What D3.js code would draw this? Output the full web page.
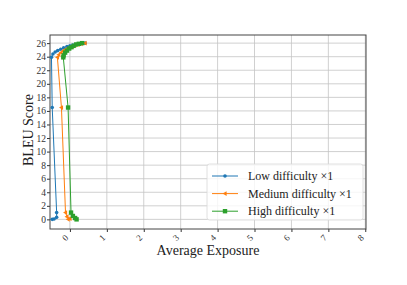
<!DOCTYPE html>
<html><head><meta charset="utf-8">
<script src="https://cdn.jsdelivr.net/npm/d3@7"></script>
<style>body{margin:0;background:#fff}svg{display:block}text{font-family:"Liberation Serif","DejaVu Serif",serif}</style>
</head><body><svg id="c" width="407" height="285"></svg>
<script>
const xTicks = [0,1,2,3,4,5,6,7,8];
const yTicks = [0,2,4,6,8,10,12,14,16,18,20,22,24,26];
const seriesNames = ["Low difficulty \u00d71","Medium difficulty \u00d71","High difficulty \u00d71"];
const seriesColors = ["#1f77b4","#ff7f0e","#2ca02c"];
const seriesMarkers = ["circle","triangle","square"];
const lowX = [-0.48,-0.43,-0.36,-0.36,-0.48,-0.50,-0.46,-0.40,-0.33,-0.25,-0.17,-0.08,0.0,0.08,0.16,0.24,0.32,0.41];
const lowY = [0,0.05,0.3,1.0,16.5,23.9,24.4,24.7,24.9,25.1,25.3,25.5,25.6,25.7,25.8,25.9,25.95,26.0];
const medX = [-0.05,0.0,-0.08,-0.12,-0.23,-0.34,-0.30,-0.24,-0.17,-0.10,-0.02,0.06,0.14,0.22,0.30,0.41];
const medY = [0,0.1,0.4,1.0,16.5,23.9,24.3,24.6,24.9,25.1,25.3,25.5,25.7,25.8,25.9,26.0];
const highX = [0.18,0.14,0.08,0.03,-0.05,-0.18,-0.17,-0.13,-0.08,-0.02,0.04,0.10,0.17,0.24,0.33];
const highY = [0,0.2,0.5,1.0,16.5,23.9,24.2,24.6,24.9,25.2,25.4,25.6,25.8,25.9,26.0];

const svg = d3.select("#c");
const L=50, R=366, T=35, B=229;
const x = d3.scaleLinear().domain([-0.54,8.02]).range([L,R]);
const y = d3.scaleLinear().domain([-1.42,27.2]).range([B,T]);
const g = svg.append("g");
g.selectAll(".gx").data(xTicks).enter().append("line")
 .attr("x1",d=>x(d)).attr("x2",d=>x(d)).attr("y1",T).attr("y2",B)
 .attr("stroke","#c4c4c4").attr("stroke-width",0.8);
g.selectAll(".gy").data(yTicks).enter().append("line")
 .attr("y1",d=>y(d)).attr("y2",d=>y(d)).attr("x1",L).attr("x2",R)
 .attr("stroke","#c4c4c4").attr("stroke-width",0.8);
const xa = svg.append("g").attr("transform",`translate(0,${B})`).call(d3.axisBottom(x).tickValues(xTicks).tickSize(3).tickFormat(d3.format("d")));
xa.select(".domain").remove();
xa.selectAll("line").attr("stroke","#333");
xa.selectAll("text").attr("font-size",9).attr("fill","#333")
  .attr("text-anchor","middle").attr("dy",0).attr("y",0)
  .attr("transform","translate(-3,11) rotate(-45)");
const ya = svg.append("g").attr("transform",`translate(${L},0)`).call(d3.axisLeft(y).tickValues(yTicks).tickSize(3));
ya.select(".domain").remove();
ya.selectAll("line").attr("stroke","#333");
ya.selectAll("text").attr("font-size",9.5).attr("fill","#333").attr("x",-4);
svg.append("rect").attr("x",L).attr("y",T).attr("width",R-L).attr("height",B-T)
 .attr("fill","none").attr("stroke","#444").attr("stroke-width",1);
const data = [[lowX,lowY],[medX,medY],[highX,highY]];
function marker(sel, type, color, cx, cy){
  if(type==="circle") sel.append("circle").attr("cx",cx).attr("cy",cy).attr("r",1.8).attr("fill",color);
  else if(type==="square") sel.append("rect").attr("x",cx-2.2).attr("y",cy-2.2).attr("width",4.4).attr("height",4.4).attr("fill",color);
  else sel.append("path").attr("d",`M${cx-2.4},${cy}L${cx+1.6},${cy-2.4}L${cx+1.6},${cy+2.4}Z`).attr("fill",color);
}
const plot = svg.append("g");
data.forEach((d,i)=>{
  const pts = d[0].map((v,j)=>[v,d[1][j]]);
  plot.append("path").datum(pts).attr("d",d3.line().x(p=>x(p[0])).y(p=>y(p[1])))
   .attr("fill","none").attr("stroke",seriesColors[i]).attr("stroke-width",1);
  const mg = plot.append("g");
  pts.forEach(p=>marker(mg,seriesMarkers[i],seriesColors[i],x(p[0]),y(p[1])));
});
const lg = svg.append("g");
lg.append("rect").attr("x",207).attr("y",164).attr("width",156).attr("height",56).attr("rx",2.5)
 .attr("fill","#fff").attr("fill-opacity",0.8).attr("stroke","#d8d8d8").attr("stroke-width",0.8);
seriesNames.forEach((n,i)=>{
  const yy = 176+i*17.6;
  lg.append("line").attr("x1",212).attr("x2",238).attr("y1",yy).attr("y2",yy).attr("stroke",seriesColors[i]).attr("stroke-width",1);
  marker(lg,seriesMarkers[i],seriesColors[i],225,yy);
  lg.append("text").attr("x",248).attr("y",yy+4).attr("font-size",12).attr("fill","#222").text(n);
});
svg.append("text").attr("x",208).attr("y",255).attr("text-anchor","middle").attr("font-size",14).attr("fill","#222").text("Average Exposure");
svg.append("text").attr("transform","translate(33,130) rotate(-90)").attr("text-anchor","middle").attr("font-size",14).attr("fill","#222").text("BLEU Score");
</script></body></html>
